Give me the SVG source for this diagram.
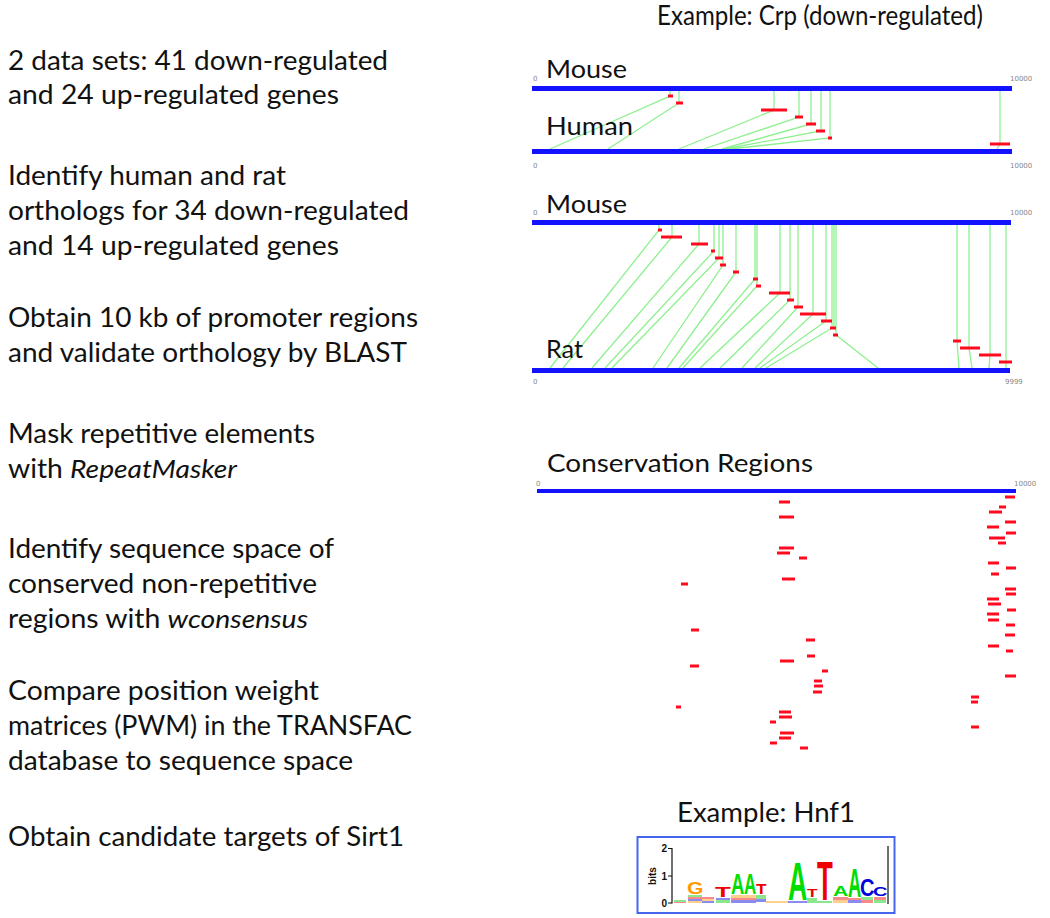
<svg xmlns="http://www.w3.org/2000/svg" width="1050" height="918" viewBox="0 0 1050 918">
<style>
.t{font-family:Lato,"Open Sans","Liberation Sans",sans-serif;font-size:26px;fill:#111}
.lbl{font-family:Lato,"Open Sans","Liberation Sans",sans-serif;font-size:25px;fill:#111}
.tk{font-family:"DejaVu Sans",sans-serif;font-size:7px;fill:#888}
.bar{fill:#1212ff}
.red{fill:#ff0a1e}
.lnk{stroke:#8ef08e;stroke-width:1.3;fill:none}
.lg{font-family:"Liberation Sans",Arial,sans-serif;font-weight:bold;font-size:20px}
.ax{font-family:"Liberation Sans",Arial,sans-serif;font-weight:bold;font-size:10px;fill:#111}
.res{opacity:0.45}
</style>
<rect width="1050" height="918" fill="#fff"/>

<g id="steps">
<text class="t" x="8" y="70" textLength="380" lengthAdjust="spacingAndGlyphs">2 data sets:  41 down-regulated</text>
<text class="t" x="8" y="104" textLength="331" lengthAdjust="spacingAndGlyphs">and 24 up-regulated genes</text>
<text class="t" x="8" y="185" textLength="278" lengthAdjust="spacingAndGlyphs">Identify human and rat</text>
<text class="t" x="8" y="220" textLength="401" lengthAdjust="spacingAndGlyphs">orthologs for 34 down-regulated</text>
<text class="t" x="8" y="255" textLength="331" lengthAdjust="spacingAndGlyphs">and 14 up-regulated genes</text>
<text class="t" x="8" y="327" textLength="410" lengthAdjust="spacingAndGlyphs">Obtain 10 kb of promoter regions</text>
<text class="t" x="8" y="362" textLength="399" lengthAdjust="spacingAndGlyphs">and validate orthology by BLAST</text>
<text class="t" x="8" y="443" textLength="307" lengthAdjust="spacingAndGlyphs">Mask repetitive elements</text>
<text class="t" x="8" y="478" textLength="229" lengthAdjust="spacingAndGlyphs">with <tspan font-style="italic">RepeatMasker</tspan></text>
<text class="t" x="8" y="558" textLength="326" lengthAdjust="spacingAndGlyphs">Identify sequence space of</text>
<text class="t" x="8" y="593" textLength="309" lengthAdjust="spacingAndGlyphs">conserved non-repetitive</text>
<text class="t" x="8" y="628" textLength="300" lengthAdjust="spacingAndGlyphs">regions with <tspan font-style="italic">wconsensus</tspan></text>
<text class="t" x="8" y="700" textLength="311" lengthAdjust="spacingAndGlyphs">Compare position weight</text>
<text class="t" x="8" y="735" textLength="404" lengthAdjust="spacingAndGlyphs">matrices (PWM) in the TRANSFAC</text>
<text class="t" x="8" y="770" textLength="345" lengthAdjust="spacingAndGlyphs">database to sequence space</text>
<text class="t" x="8" y="846" textLength="396" lengthAdjust="spacingAndGlyphs">Obtain candidate targets of Sirt1</text>
</g>

<g id="title">
<text class="t" x="657" y="25" textLength="326" lengthAdjust="spacingAndGlyphs">Example: Crp (down-regulated)</text>
</g>

<g id="connectors">
<polyline class="lnk" points="670,91 670,96 550,149"/>
<polyline class="lnk" points="679,91 679,103 608,149"/>
<polyline class="lnk" points="774,91 774,110 679,149"/>
<polyline class="lnk" points="799,91 799,117 704,149"/>
<polyline class="lnk" points="811,91 811,124 722,149"/>
<polyline class="lnk" points="821,91 821,131 725,149"/>
<polyline class="lnk" points="830,91 830,138 730,149"/>
<polyline class="lnk" points="1000,91 1000,144 997,149"/>
<polyline class="lnk" points="659,225 659,230 550,368"/>
<polyline class="lnk" points="672,225 672,237 563,368"/>
<polyline class="lnk" points="699,225 699,244 592,368"/>
<polyline class="lnk" points="714,225 714,251 605,368"/>
<polyline class="lnk" points="719,225 719,258 612,368"/>
<polyline class="lnk" points="723,225 723,265 653,368"/>
<polyline class="lnk" points="736,225 736,272 667,368"/>
<polyline class="lnk" points="755,225 755,279 679,368"/>
<polyline class="lnk" points="757,225 757,286 683,368"/>
<polyline class="lnk" points="780,225 780,293 700,368"/>
<polyline class="lnk" points="790,225 790,300 720,368"/>
<polyline class="lnk" points="798,225 798,307 742,368"/>
<polyline class="lnk" points="813,225 813,314 755,368"/>
<polyline class="lnk" points="826,225 826,321 760,368"/>
<polyline class="lnk" points="832,225 832,328 766,368"/>
<polyline class="lnk" points="834,225 834,328"/>
<polyline class="lnk" points="836,225 836,335 878,368"/>
<polyline class="lnk" points="957,225 957,341 959,368"/>
<polyline class="lnk" points="969,225 969,348 972,368"/>
<polyline class="lnk" points="990,225 990,355 989,368"/>
<polyline class="lnk" points="1006,225 1006,362 1006,368"/>
</g>

<g id="panel-mouse-human">
<text class="tk" x="533" y="81">0</text>
<text class="tk" x="1010" y="81">10000</text>
<text class="lbl" x="546" y="78" textLength="81" lengthAdjust="spacingAndGlyphs">Mouse</text>
<rect class="bar" x="532" y="86" width="480" height="5"/>
<text class="lbl" x="546" y="135" textLength="87" lengthAdjust="spacingAndGlyphs">Human</text>
<rect class="bar" x="532" y="149" width="480" height="5"/>
<text class="tk" x="533" y="168">0</text>
<text class="tk" x="1010" y="168">10000</text>
<rect class="red" x="668" y="94.5" width="5" height="3"/>
<rect class="red" x="676" y="101.5" width="7" height="3"/>
<rect class="red" x="761" y="108.5" width="26" height="3"/>
<rect class="red" x="795" y="115.5" width="8" height="3"/>
<rect class="red" x="806" y="122.5" width="10" height="3"/>
<rect class="red" x="816" y="129.5" width="9" height="3"/>
<rect class="red" x="828" y="136.5" width="4" height="3"/>
<rect class="red" x="990" y="142.5" width="20" height="3"/>
</g>

<g id="panel-mouse-rat">
<text class="tk" x="533" y="215">0</text>
<text class="tk" x="1010" y="215">10000</text>
<text class="lbl" x="546" y="213" textLength="81" lengthAdjust="spacingAndGlyphs">Mouse</text>
<rect class="bar" x="532" y="220" width="479" height="5"/>
<text class="lbl" x="546" y="358" textLength="37" lengthAdjust="spacingAndGlyphs">Rat</text>
<rect class="bar" x="532" y="368" width="478" height="5"/>
<text class="tk" x="533" y="384">0</text>
<text class="tk" x="1005" y="384">9999</text>
<rect class="red" x="658" y="228.5" width="4" height="3"/>
<rect class="red" x="661" y="235.5" width="21" height="3"/>
<rect class="red" x="691" y="242.5" width="17" height="3"/>
<rect class="red" x="711" y="249.5" width="4" height="3"/>
<rect class="red" x="715" y="256.5" width="8" height="3"/>
<rect class="red" x="720" y="263.5" width="6" height="3"/>
<rect class="red" x="733" y="270.5" width="6" height="3"/>
<rect class="red" x="753" y="277.5" width="5" height="3"/>
<rect class="red" x="756" y="284.5" width="5" height="3"/>
<rect class="red" x="769" y="291.5" width="21" height="3"/>
<rect class="red" x="787" y="298.5" width="7" height="3"/>
<rect class="red" x="794" y="305.5" width="9" height="3"/>
<rect class="red" x="800" y="312.5" width="26" height="3"/>
<rect class="red" x="821" y="319.5" width="11" height="3"/>
<rect class="red" x="830" y="326.5" width="6" height="3"/>
<rect class="red" x="833" y="333.5" width="5" height="3"/>
<rect class="red" x="953" y="339.5" width="8" height="3"/>
<rect class="red" x="960" y="346.5" width="20" height="3"/>
<rect class="red" x="979" y="353.5" width="22" height="3"/>
<rect class="red" x="999" y="360.5" width="13" height="3"/>
</g>

<g id="panel-conservation">
<text class="lbl" x="547" y="472" textLength="266" lengthAdjust="spacingAndGlyphs">Conservation Regions</text>
<text class="tk" x="536" y="486">0</text>
<text class="tk" x="1014" y="486">10000</text>
<rect class="bar" x="537" y="489" width="479" height="4"/>
<g class="red">
<rect x="779" y="500.5" width="11" height="3"/>
<rect x="779" y="515.5" width="15" height="3"/>
<rect x="779" y="546.5" width="15" height="3"/>
<rect x="777" y="551.5" width="13" height="3"/>
<rect x="799" y="556.5" width="8" height="3"/>
<rect x="782" y="577.5" width="13" height="3"/>
<rect x="681" y="582.5" width="7" height="3"/>
<rect x="1005" y="495.5" width="10" height="3"/>
<rect x="999" y="505.5" width="7" height="3"/>
<rect x="989" y="510.5" width="13" height="3"/>
<rect x="1005" y="520.5" width="11" height="3"/>
<rect x="987" y="525.5" width="12" height="3"/>
<rect x="1006" y="531.5" width="10" height="3"/>
<rect x="989" y="536.5" width="16" height="3"/>
<rect x="998" y="541.5" width="8" height="3"/>
<rect x="988" y="561.5" width="11" height="3"/>
<rect x="1006" y="566.5" width="10" height="3"/>
<rect x="991" y="572.5" width="8" height="3"/>
<rect x="1005" y="587.5" width="11" height="3"/>
<rect x="1006" y="592.5" width="10" height="3"/>
<rect x="987" y="597.5" width="12" height="3"/>
<rect x="988" y="602.5" width="13" height="3"/>
<rect x="1007" y="608.5" width="9" height="3"/>
<rect x="987" y="612.5" width="12" height="3"/>
<rect x="988" y="618.5" width="11" height="3"/>
<rect x="1006" y="623.5" width="9" height="3"/>
<rect x="1005" y="633.5" width="10" height="3"/>
<rect x="988" y="644.5" width="11" height="3"/>
<rect x="1006" y="649.5" width="7" height="3"/>
<rect x="1005" y="674.5" width="11" height="3"/>
<rect x="691" y="628.5" width="8" height="3"/>
<rect x="806" y="638.5" width="9" height="3"/>
<rect x="807" y="654.5" width="8" height="3"/>
<rect x="780" y="659.5" width="14" height="3"/>
<rect x="690" y="664.5" width="9" height="3"/>
<rect x="822" y="669.5" width="6" height="3"/>
<rect x="814" y="679.5" width="8" height="3"/>
<rect x="814" y="684.5" width="9" height="3"/>
<rect x="813" y="690.5" width="9" height="3"/>
<rect x="971" y="695.5" width="8" height="3"/>
<rect x="971" y="700.5" width="7" height="3"/>
<rect x="676" y="705.5" width="5" height="3"/>
<rect x="779" y="710.5" width="12" height="3"/>
<rect x="779" y="715.5" width="13" height="3"/>
<rect x="770" y="720.5" width="6" height="3"/>
<rect x="971" y="725.5" width="8" height="3"/>
<rect x="780" y="731.5" width="14" height="3"/>
<rect x="779" y="736.5" width="12" height="3"/>
<rect x="770" y="741.5" width="7" height="3"/>
<rect x="800" y="746.5" width="8" height="3"/>
</g>
</g>

<g id="logo">
<text class="t" x="677" y="822" textLength="178" lengthAdjust="spacingAndGlyphs">Example:  Hnf1</text>
<rect x="637.5" y="837" width="257" height="76" fill="none" stroke="#4466ee" stroke-width="2"/>
<line x1="672" y1="848" x2="672" y2="903.5" stroke="#111" stroke-width="1.2"/>
<line x1="668" y1="848.5" x2="672" y2="848.5" stroke="#111"/>
<line x1="668" y1="876" x2="672" y2="876" stroke="#111"/>
<line x1="668" y1="903" x2="672" y2="903" stroke="#111"/>
<line x1="888" y1="846" x2="888" y2="904" stroke="#111" stroke-width="1.2"/>
<text class="ax" x="667" y="852" text-anchor="end">2</text>
<text class="ax" x="667" y="880" text-anchor="end">1</text>
<text class="ax" x="667" y="907" text-anchor="end">0</text>
<text class="ax" transform="translate(656,876) rotate(-90)" text-anchor="middle" font-size="9">bits</text>
<g class="res">
<rect x="674" y="900" width="12" height="2" fill="#00cc00"/>
<rect x="674" y="902" width="12" height="1" fill="#ee0000"/>
<rect x="688" y="895" width="14" height="2" fill="#00cc00"/>
<rect x="688" y="897" width="14" height="2" fill="#ee0000"/>
<rect x="688" y="899" width="14" height="2" fill="#0000dd"/>
<rect x="688" y="901" width="14" height="2" fill="#ff9900"/>
<rect x="702" y="897" width="12" height="2" fill="#ee0000"/>
<rect x="702" y="899" width="12" height="2" fill="#ff9900"/>
<rect x="702" y="901" width="12" height="2" fill="#0000dd"/>
<rect x="716" y="898" width="14" height="2" fill="#0000dd"/>
<rect x="716" y="900" width="14" height="3" fill="#00cc00"/>
<rect x="731" y="895" width="25" height="3" fill="#ff9900"/>
<rect x="731" y="898" width="25" height="2" fill="#ee0000"/>
<rect x="731" y="900" width="25" height="3" fill="#0000dd"/>
<rect x="756" y="895" width="10" height="4" fill="#00cc00"/>
<rect x="756" y="899" width="10" height="3" fill="#0000dd"/>
<rect x="766" y="901" width="22" height="2" fill="#ff9900"/>
<rect x="788" y="901" width="19" height="2" fill="#0000dd"/>
<rect x="807" y="898" width="10" height="5" fill="#00cc00"/>
<rect x="817" y="901" width="15" height="2" fill="#00cc00"/>
<rect x="833" y="897" width="15" height="3" fill="#ee0000"/>
<rect x="833" y="900" width="15" height="3" fill="#ff9900"/>
<rect x="848" y="898" width="13" height="2" fill="#ee0000"/>
<rect x="848" y="900" width="13" height="3" fill="#0000dd"/>
<rect x="861" y="897" width="12" height="3" fill="#00cc00"/>
<rect x="861" y="900" width="12" height="3" fill="#ee0000"/>
<rect x="874" y="897" width="12" height="3" fill="#ee0000"/>
<rect x="874" y="900" width="12" height="3" fill="#00cc00"/>
</g>
<text class="lg" fill="#ff9900" transform="translate(687,894) scale(1.06,0.82)">G</text>
<text class="lg" fill="#ee0000" transform="translate(715,897) scale(1.29,0.7)">T</text>
<text class="lg" fill="#00dd00" transform="translate(731,894) scale(0.92,1.47)">A</text>
<text class="lg" fill="#00dd00" transform="translate(744,894) scale(0.85,1.47)">A</text>
<text class="lg" fill="#ee0000" transform="translate(756,894) scale(0.86,0.77)">T</text>
<text class="lg" fill="#00dd00" transform="translate(788,900) scale(1.34,2.66)">A</text>
<text class="lg" fill="#ee0000" transform="translate(807,897) scale(0.86,0.56)">T</text>
<text class="lg" fill="#ee0000" transform="translate(817,900) scale(1.29,2.73)">T</text>
<text class="lg" fill="#00dd00" transform="translate(833,896) scale(1.06,0.77)">A</text>
<text class="lg" fill="#00dd00" transform="translate(848,897) scale(0.92,2.03)">A</text>
<text class="lg" fill="#0000dd" transform="translate(860,896) scale(1.0,1.23)">C</text>
<text class="lg" fill="#0000dd" transform="translate(873,896) scale(1.0,0.62)">C</text>
</g>
</svg>
